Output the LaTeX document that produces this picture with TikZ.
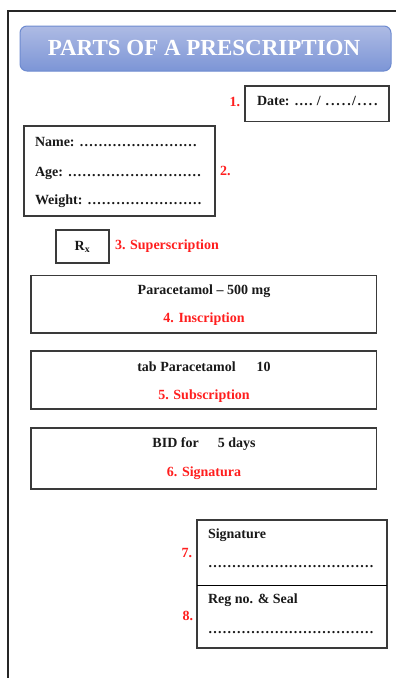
\documentclass[tikz,border=0pt]{standalone}
\usepackage{fontspec}
\setmainfont{Liberation Serif}
\definecolor{lbl}{HTML}{FF1E1E}
\definecolor{boxline}{HTML}{3A3A3A}
\definecolor{titletop}{HTML}{AEBBE4}
\definecolor{titlebot}{HTML}{7C95D6}
\definecolor{titleline}{HTML}{6E8BD0}
\newcommand\dotline[1]{\xleaders\hbox to 4.7pt{\hss.\hss}\hskip #1\relax\hbox{}}
\tikzset{
  frameline/.style={draw=black!85, line width=1.4pt},
  pbox/.style={draw=boxline, line width=1.3pt},
  txt/.style={inner sep=0pt, outer sep=0pt, font=\fontsize{14}{16}\selectfont\bfseries, text=black!90},
  rlabel/.style={txt, text=lbl},
}
\begin{document}
\begin{tikzpicture}[x=1pt,y=-1pt]
\useasboundingbox (0,0) rectangle (396,678);
% page frame
\coordinate (fTL) at (8,11);
\coordinate (fTR) at (396,11);
\coordinate (fBL) at (8,678);
\draw[frameline] (fTR) -- (fTL) -- (fBL);
% title banner
\node[draw=titleline, line width=1pt, rounded corners=7pt, top color=titletop, bottom color=titlebot,
      minimum width=371pt, minimum height=45pt, inner sep=0pt] (title) at (205.5,48.5) {};
\node[inner sep=0pt, anchor=base, font=\fontsize{23}{25}\selectfont\bfseries, text=white] (titletext) at (204,55) {PARTS OF A PRESCRIPTION};
% 1. date
\draw[pbox] (245,86) rectangle (389,121.5);
\node[txt, anchor=base west] (date) at (257,105) {Date: \dotline{19pt} / \dotline{28pt}/\dotline{23pt}};
\node[rlabel, anchor=base east] (l1) at (240,106) {1.};
% 2. patient details
\draw[pbox] (24,126) rectangle (215,216);
\node[txt, anchor=base west] (name) at (35,146) {Name: \dotline{118pt}};
\node[txt, anchor=base west] (age) at (35,176) {Age: \dotline{134pt}};
\node[txt, anchor=base west] (weight) at (35,204) {Weight: \dotline{115pt}};
\node[rlabel, anchor=base west] (l2) at (220,175) {2.};
% 3. superscription
\draw[pbox] (56,230) rectangle (109,263);
\node[txt, anchor=base] (rx) at (82.5,250) {R\textsubscript{x}};
\node[rlabel, anchor=base west] (l3) at (115,249) {3. Superscription};
% 4. inscription
\draw[pbox] (31,275.5) rectangle (376.5,333);
\node[txt, anchor=base] (insc) at (204,294) {Paracetamol -- 500 mg};
\node[rlabel, anchor=base] (l4) at (204,322) {4. Inscription};
% 5. subscription
\draw[pbox] (31,351) rectangle (376.5,409);
\node[txt, anchor=base] (subs) at (204,371) {tab Paracetamol\hspace{21pt}10};
\node[rlabel, anchor=base] (l5) at (204,399) {5. Subscription};
% 6. signatura
\draw[pbox] (31,428) rectangle (376.5,489);
\node[txt, anchor=base] (sig) at (204,447) {BID for\hspace{19pt}5 days};
\node[rlabel, anchor=base] (l6) at (204,476) {6. Signatura};
% 7. & 8.
\draw[pbox] (197,520) rectangle (387,585.5);
\draw[pbox] (197,585.5) rectangle (387,648);
\draw[draw=black, line width=1.5pt] (197,585.5) -- (387,585.5);
\node[txt, anchor=base west] (signature) at (208,538) {Signature};
\node[txt, anchor=base west] (sigdots) at (208,567) {\dotline{166pt}};
\node[rlabel, anchor=base east] (l7) at (192,557) {7.};
\node[txt, anchor=base west] (reg) at (208,603) {Reg no. \& Seal};
\node[txt, anchor=base west] (regdots) at (208,633) {\dotline{166pt}};
\node[rlabel, anchor=base east] (l8) at (193,620) {8.};
\end{tikzpicture}
\end{document}
